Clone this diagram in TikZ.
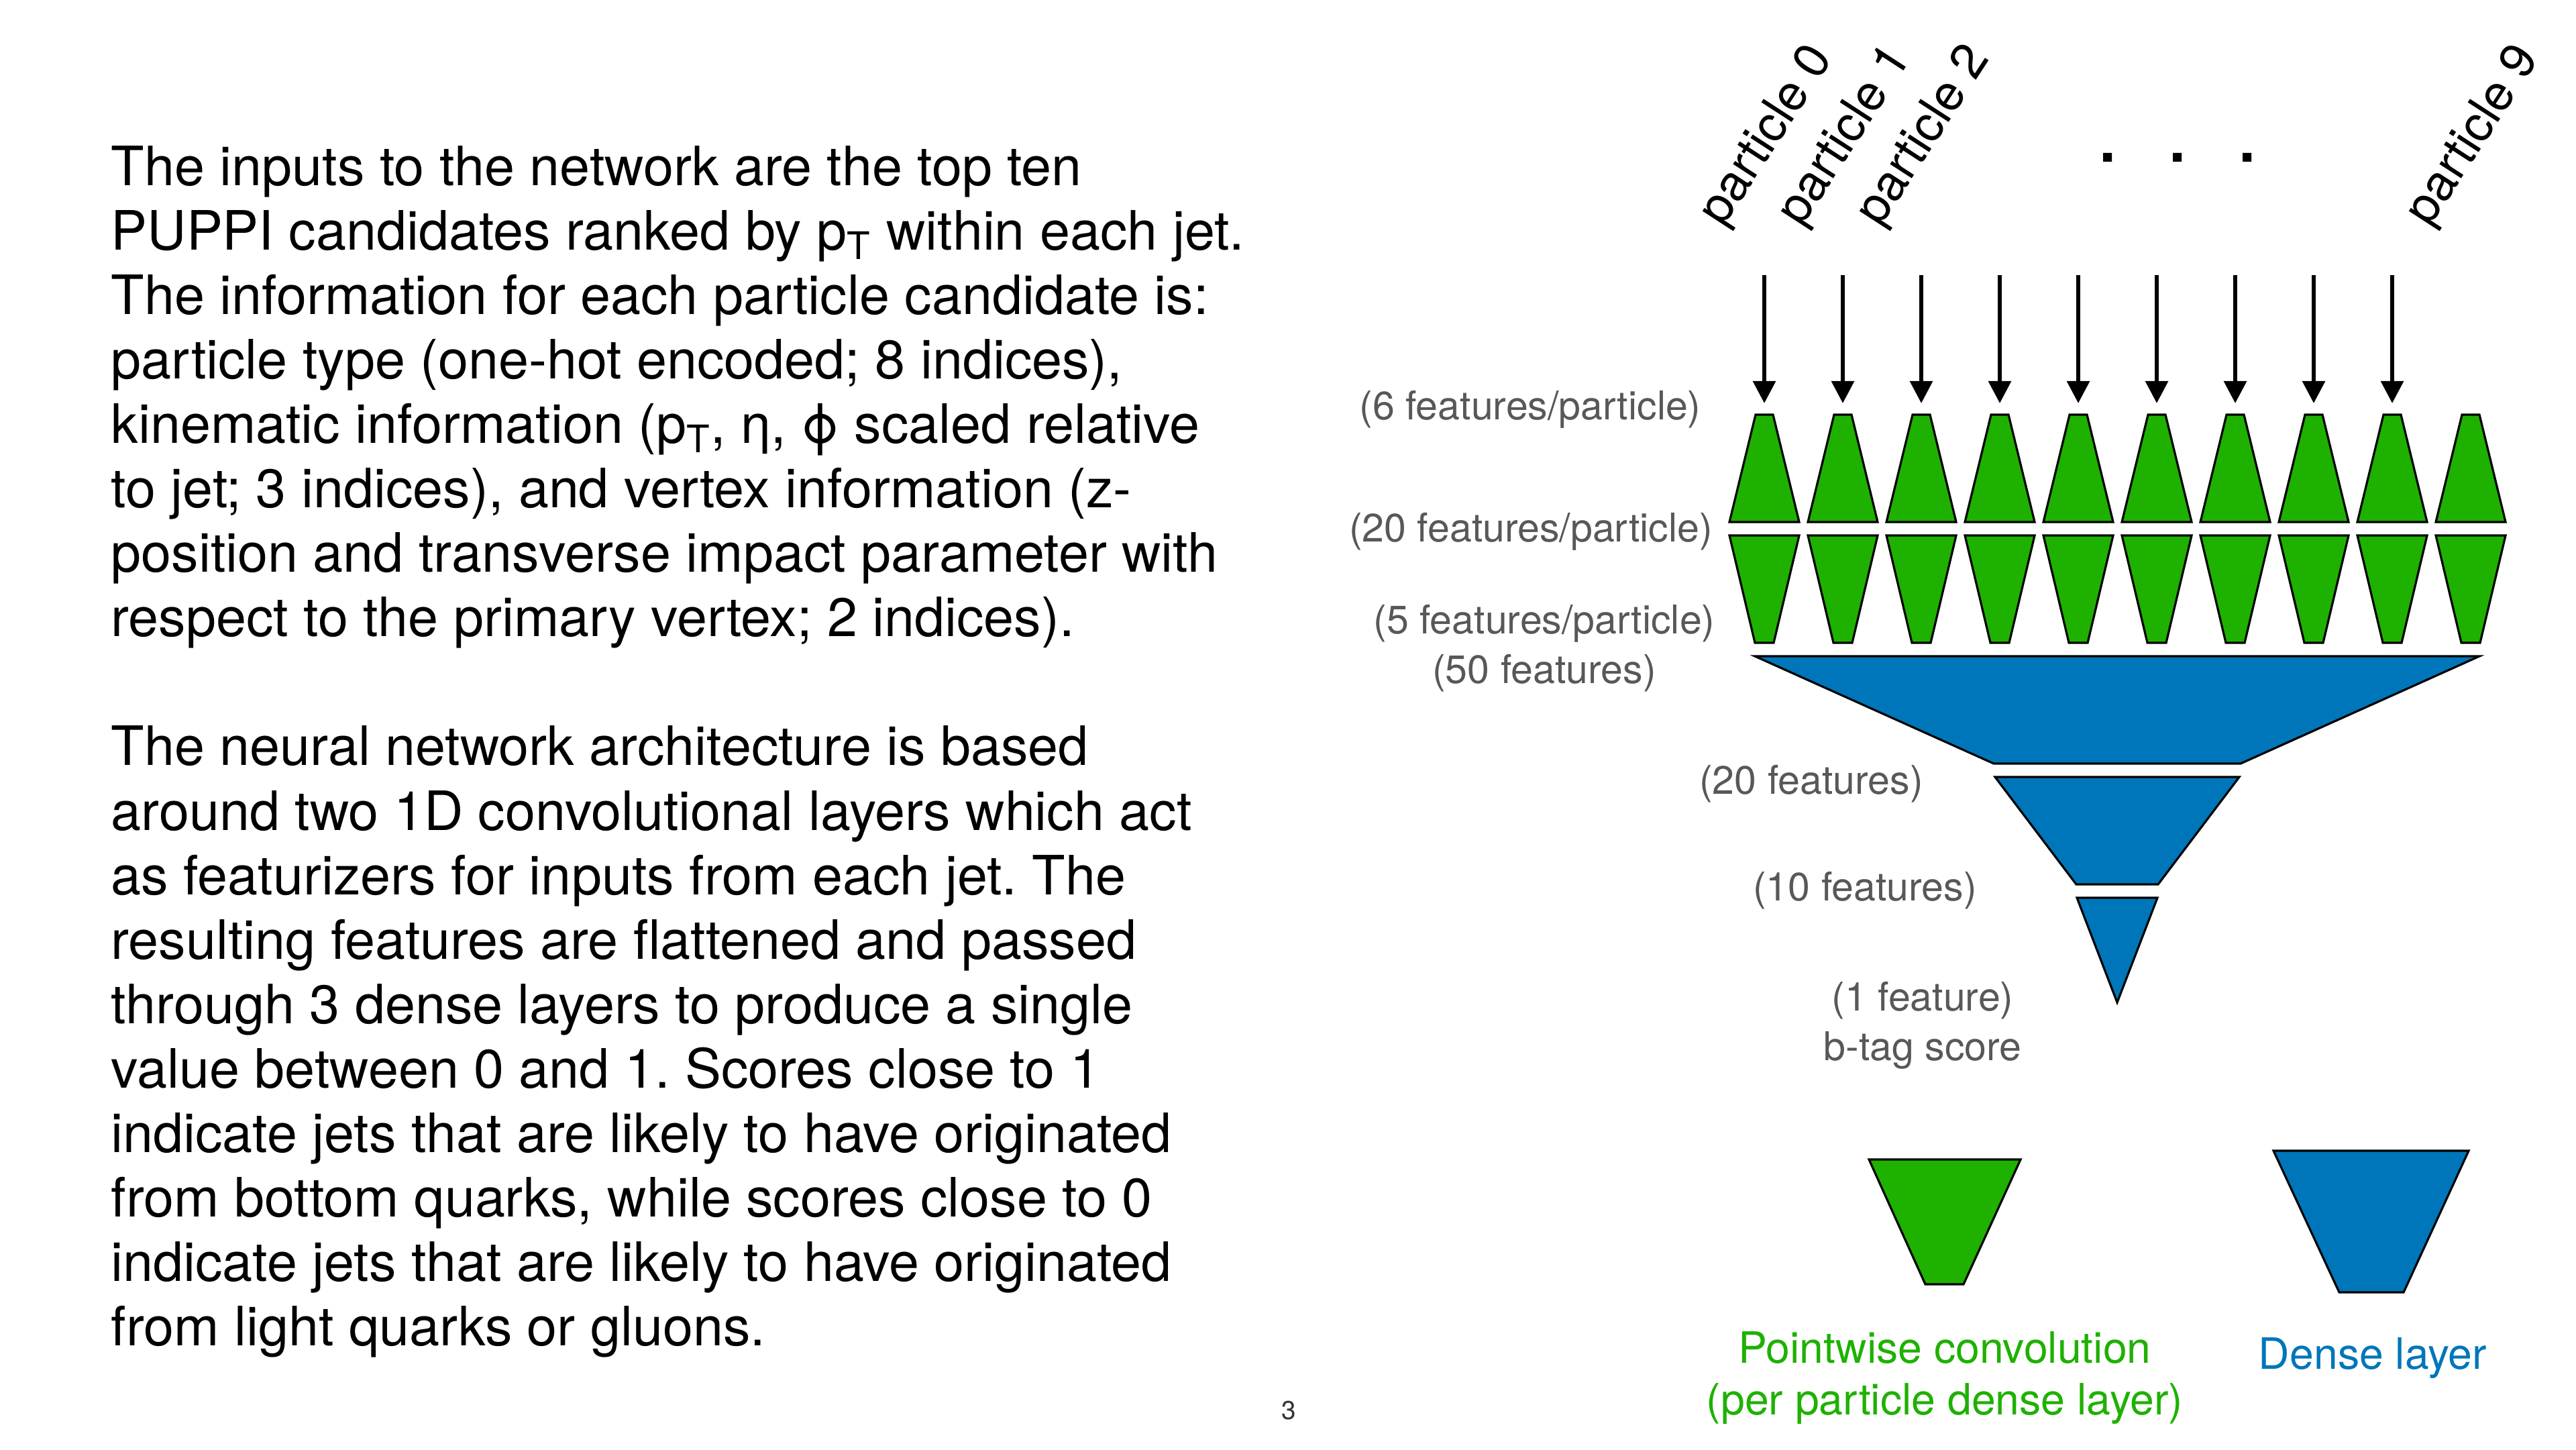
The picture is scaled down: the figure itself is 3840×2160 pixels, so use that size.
\documentclass[tikz,border=0pt]{standalone}
\usepackage{fontspec}
\setmainfont{TeX Gyre Heros}
\usepackage{tikz}
\usetikzlibrary{arrows.meta, positioning, calc}
\definecolor{convgreen}{RGB}{30, 177, 0}
\definecolor{denseblue}{RGB}{0, 118, 186}
\definecolor{labelgray}{RGB}{88, 88, 88}
\frenchspacing

\begin{document}
\begin{tikzpicture}[x=0.01cm, y=-0.01cm,
        conv/.style={draw=black, line width=0.9pt, fill=convgreen, line join=miter},
        dense/.style={draw=black, line width=0.9pt, fill=denseblue, line join=miter},
        feed/.style={line width=1.7pt, -{Triangle[width=3.3mm, length=3.3mm]}, shorten >=1.7mm},
        size/.style={labelgray, font=\fontsize{16.8}{20.9}\selectfont, align=center, anchor=base},
        particle/.style={font=\fontsize{21}{25}\selectfont, rotate=57}]
        \useasboundingbox[fill=white] (0,0) rectangle (3840,2160);
        % slide text (base anchor sits on the last line)
        \node[anchor=base west, align=left, inner sep=0pt, font=\fontsize{23}{27.3}\selectfont] (desc) at (165,2005)
            {The inputs to the network are the top ten\\
             PUPPI candidates ranked by p\textsubscript{T} within each jet.\\
             The information for each particle candidate is:\\
             particle type (one-hot encoded; 8 indices),\\
             kinematic information (p\textsubscript{T}, η, ϕ scaled relative\\
             to jet; 3 indices), and vertex information (z-\\
             position and transverse impact parameter with\\
             respect to the primary vertex; 2 indices).\\[27.3pt]
             The neural network architecture is based\\
             around two 1D convolutional layers which act\\
             as featurizers for inputs from each jet. The\\
             resulting features are flattened and passed\\
             through 3 dense layers to produce a single\\
             value between 0 and 1. Scores close to 1\\
             indicate jets that are likely to have originated\\
             from bottom quarks, while scores close to 0\\
             indicate jets that are likely to have originated\\
             from light quarks or gluons.};
        \node[font=\fontsize{11}{13}\selectfont, black!80] (page) at (1921,2102) {3};
        % particle inputs
        \foreach \i in {0,1,2,9}
            \node[particle] (part\i) at (2635+117*\i,203) {particle \i};
        \node[font=\fontsize{36}{36}\selectfont, anchor=base] (dots) at (3246,241) {.\hspace{0.69cm}.\hspace{0.69cm}.};
        % two pointwise convolutions
        \foreach \i in {0,...,9} {
            \pgfmathsetmacro{\cx}{2630+117*\i}
            \draw[conv] (\cx-13,618) -- (\cx+13,618) -- (\cx+52,778) -- (\cx-52,778) -- cycle;
            \draw[conv] (\cx-52,798) -- (\cx+52,798) -- (\cx+14,958) -- (\cx-14,958) -- cycle;
            \coordinate (cA\i) at (\cx,618);
        }
        \foreach \i in {0,...,8} {
            \coordinate (in\i) at (2630+117*\i,410);
            \draw[feed] (in\i) -- (cA\i);
        }
        % dense layers
        \draw[dense] (2616,978) -- (3696,978) -- (3340,1138) -- (2972,1138) -- cycle;
        \draw[dense] (2974,1158) -- (3338,1158) -- (3217,1318) -- (3095,1318) -- cycle;
        \draw[dense] (3096,1338) -- (3216,1338) -- (3156,1494) -- cycle;
        % sizes
        \node[size] (s6) at (2281,625) {(6 features/particle)};
        \node[size] (s20) at (2282,807) {(20 features/particle)};
        \node[size] (s5) at (2302,1018) {(5 features/particle)\\(50 features)};
        \node[size] (d20) at (2700,1183) {(20 features)};
        \node[size] (d10) at (2780,1342) {(10 features)};
        \node[size] (d1) at (2866,1580) {(1 feature)\\b-tag score};
        % key
        \draw[conv] (2786,1728) -- (3012,1728) -- (2927,1914) -- (2870,1914) -- cycle;
        \draw[dense] (3389,1715) -- (3680,1715) -- (3583,1926) -- (3487,1926) -- cycle;
        \node[anchor=base, align=center, convgreen, font=\fontsize{18.3}{21.9}\selectfont] (convkey) at (2899,2108)
            {Pointwise convolution\\(per particle dense layer)};
        \node[anchor=base, denseblue, font=\fontsize{18.3}{21.9}\selectfont] (densekey) at (3537,2040) {Dense layer};
    \end{tikzpicture}
\end{document}
